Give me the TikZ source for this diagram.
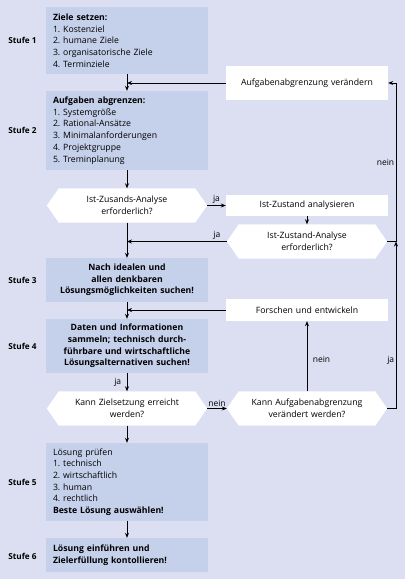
\documentclass[tikz,border=0pt]{standalone}
\usepackage{fontspec}
\setmainfont{Open Sans}
\usetikzlibrary{arrows.meta,backgrounds}
\definecolor{bgc}{RGB}{219,223,241}
\definecolor{boxc}{RGB}{197,208,234}
\frenchspacing
\begin{document}
\begin{tikzpicture}[x=1pt,y=-1pt,
  font=\fontsize{8.7}{11.7}\selectfont,
  stage/.style={fill=boxc, minimum width=162pt, text width=148pt, inner xsep=7pt, inner ysep=0pt, align=left},
  stagec/.style={stage, align=center},
  bftext/.style={font=\fontsize{8.7}{11.7}\selectfont\bfseries},
  rbox/.style={fill=white, minimum width=162pt, text width=148pt, inner xsep=7pt, inner ysep=0pt, align=center},
  hexa/.style={minimum width=160pt, minimum height=34pt, text width=136pt, inner sep=0pt, align=center},
  lbl/.style={font=\fontsize{8.2}{10}\selectfont\bfseries, inner sep=0pt},
  tag/.style={font=\fontsize{8.5}{10}\selectfont, inner sep=1.5pt},
  conn/.style={draw, line width=0.7pt, -{Stealth[length=5pt,width=4pt]}}
]
\useasboundingbox (0,0) rectangle (405,579);
\begin{scope}[on background layer]
\fill[bgc] (0,0) rectangle (405,579);
\end{scope}

% left column
\node[stage, minimum height=67pt] (s1) at (127,40.5) {\textbf{Ziele setzen:}\\1. Kostenziel\\2. humane Ziele\\3. organisatorische Ziele\\4. Terminziele};
\node[stage, minimum height=79pt] (s2) at (127,130.5) {\textbf{Aufgaben abgrenzen:}\\1. Systemgröße\\2. Rational-Ansätze\\3. Minimalanforderungen\\4. Projektgruppe\\5. Treminplanung};
\node[hexa] (h1) at (127,205.5) {Ist-Zusands-Analyse\\erforderlich?};
\node[stagec, bftext, minimum height=44pt] (s3) at (127,280) {Nach idealen und\\allen denkbaren\\Lösungsmöglichkeiten suchen!};
\node[stagec, bftext, minimum height=54pt] (s4) at (127,346) {Daten und Informationen\\sammeln; technisch durch-\\führbare und wirtschaftliche\\Lösungsalternativen suchen!};
\node[hexa] (h3) at (127,408.5) {Kann Zielsetzung erreicht\\werden?};
\node[stage, minimum height=78pt] (s5) at (127,482) {Lösung prüfen\\1. technisch\\2. wirtschaftlich\\3. human\\4. rechtlich\\\textbf{Beste Lösung auswählen!}};
\node[stage, bftext, minimum height=34pt] (s6) at (127,555) {Lösung einführen und\\Zielerfüllung kontollieren!};

% stage labels
\node[lbl] (l1) at (22.5,40.5) {Stufe 1};
\node[lbl] (l2) at (22.5,130.5) {Stufe 2};
\node[lbl] (l3) at (22.5,280) {Stufe 3};
\node[lbl] (l4) at (22.5,346) {Stufe 4};
\node[lbl] (l5) at (22.5,482) {Stufe 5};
\node[lbl] (l6) at (22.5,556) {Stufe 6};

% right column
\node[rbox, minimum height=34pt] (a1) at (307,83) {Aufgabenabgrenzung verändern};
\node[rbox, minimum height=21pt] (a2) at (307,205.5) {Ist-Zustand analysieren};
\node[hexa] (h2) at (307,241.5) {Ist-Zustand-Analyse\\erforderlich?};
\node[rbox, minimum height=22pt] (a3) at (307,310) {Forschen und entwickeln};
\node[hexa] (h4) at (307,408.5) {Kann Aufgabenabgrenzung\\verändert werden?};
\coordinate (rj) at (396,241.5);

% hexagon fills
\begin{scope}[on background layer]
\foreach \h in {h1,h2,h3,h4}
  \fill[white] (\h.west) -- ([xshift=12pt]\h.north west) -- ([xshift=-12pt]\h.north east)
    -- (\h.east) -- ([xshift=-12pt]\h.south east) -- ([xshift=12pt]\h.south west) -- cycle;
\end{scope}

% connectors
\draw[conn] (s1) -- (s2);
\draw[conn] (a1.west) -- (a1.west -| s1.south);
\draw[conn] (s2) -- (h1);
\draw[conn] (h1) -- (s3);
\draw[conn] (h1.east) -- node[tag, above] (t1) {ja} (a2.west);
\draw[conn] (a2) -- (h2);
\draw[conn] (h2.west) -- node[tag, above, pos=0.1] (t2) {ja} (h2.west -| s1.south);
\draw[conn] (h2.east) -- (rj) |- node[tag, left, pos=0.25] (t3) {nein} (a1.east);
\draw[conn] (h4.east) -| node[tag, left, pos=0.645] (t4) {ja} (rj);
\draw[conn] (s3) -- (s4);
\draw[conn] (a3.west) -- (a3.west -| s1.south);
\draw[conn] (s4) -- node[tag, left=4pt] (t5) {ja} (h3);
\draw[conn] (h3.east) -- node[tag, above] (t6) {nein} (h4.west);
\draw[conn] (h4) -- node[tag, right=4pt, pos=0.45] (t7) {nein} (a3);
\draw[conn] (h3) -- (s5);
\draw[conn] (s5) -- (s6);
\end{tikzpicture}
\end{document}
